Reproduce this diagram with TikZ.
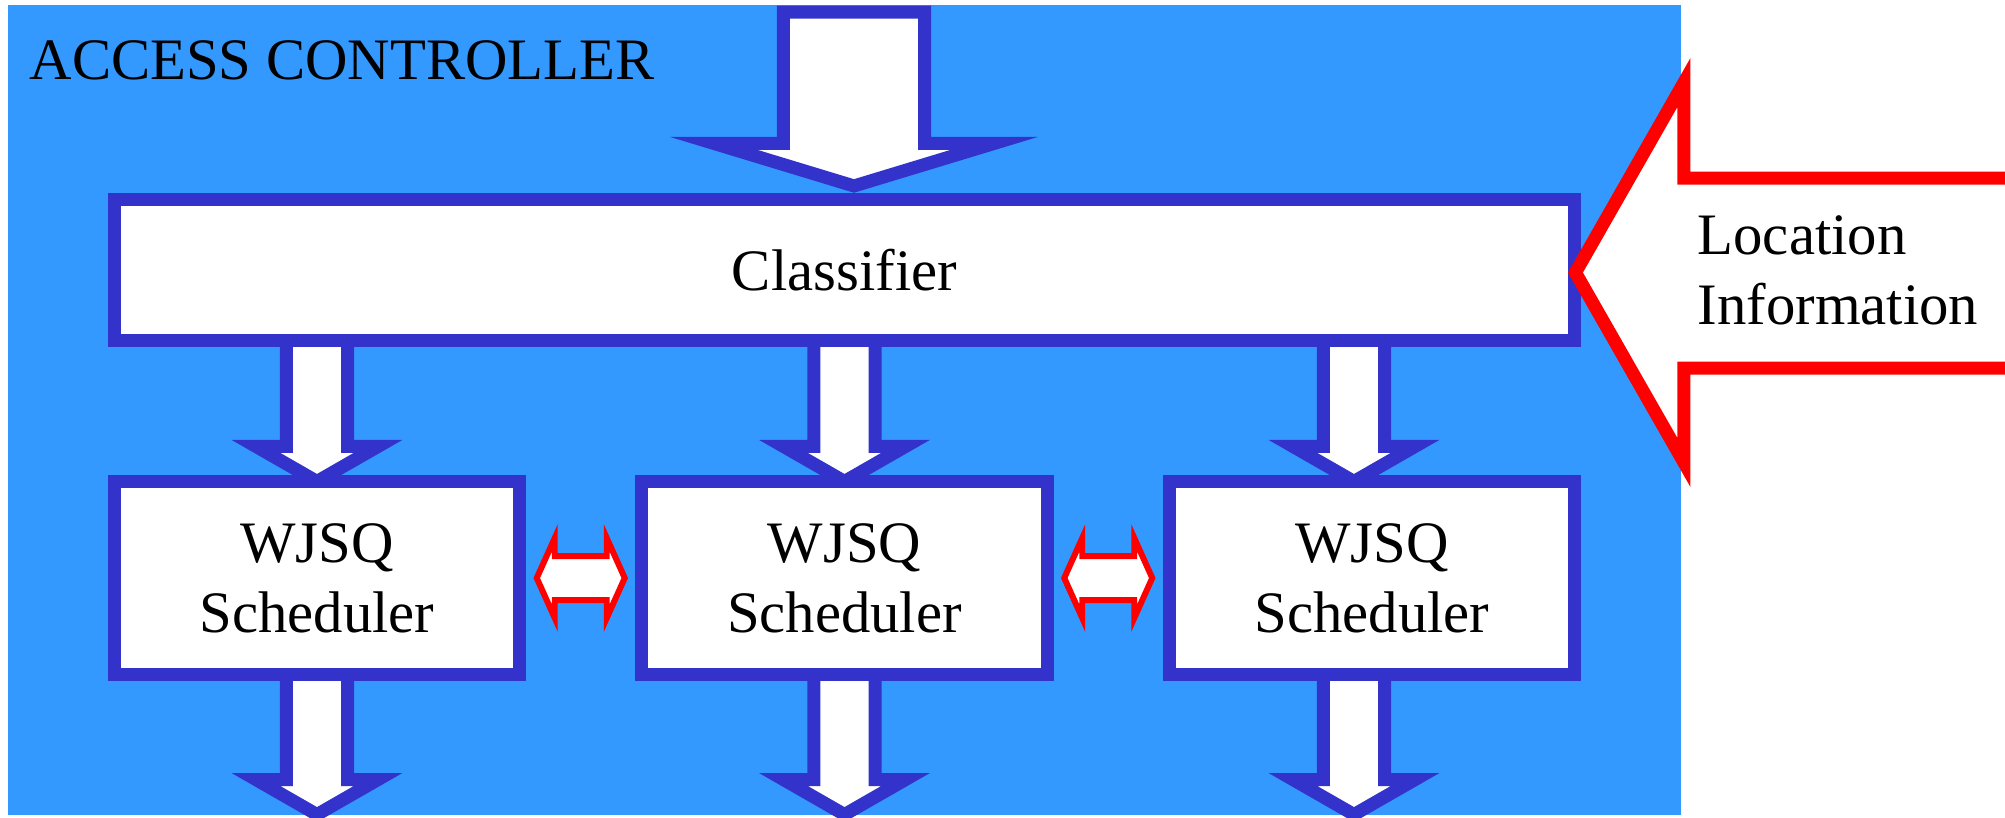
\documentclass[tikz,border=0pt]{standalone}
\usepackage{fontspec}
\setmainfont{Liberation Serif}
\usetikzlibrary{calc}
\definecolor{bgblue}{RGB}{51,153,255}
\definecolor{boxblue}{RGB}{51,51,204}
\pgfdeclarelayer{bg}
\pgfsetlayers{bg,main}

\begin{document}
\begin{tikzpicture}[x=0.01cm,y=-0.01cm,
    every node/.style={font=\fontsize{16.7pt}{20pt}\selectfont,inner sep=0pt},
    box/.style={draw=boxblue,fill=white,line width=3.7pt,align=center},
    fat/.style={draw=boxblue,fill=white,line width=3.7pt},
    twin/.style={draw=red,fill=white,line width=1.7pt},
    bigred/.style={draw=red,fill=white,line width=3.7pt}]
        \newcommand{\fatarrow}[5]{
          \draw[fat] let \p1=#1, \p2=#2 in
            (\x1-#3,\y1) -- (\x1-#3,\y2+#5) -- (\x1-#4,\y2+#5) -- (\x2,\y2)
            -- (\x1+#4,\y2+#5) -- (\x1+#3,\y2+#5) -- (\x1+#3,\y1) -- cycle;
        }
        \useasboundingbox (0,0) rectangle (2005,817);
        \node[box,minimum width=14.6cm,minimum height=1.41cm] (cls) at (844.5,270) {Classifier};
        \foreach \i/\x in {1/317,2/844.5,3/1372}{
          \node[box,minimum width=4.05cm,minimum height=1.93cm] (sch\i) at (\x,578) {WJSQ\\Scheduler};
        }
        \begin{pgfonlayer}{bg}
          \fill[bgblue] (8,5) rectangle (1681,815);
          \coordinate (feed) at (854,12);
          \coordinate (feedtip) at ($(cls.north -| feed)+(0,-7)$);
          \fatarrow{(feed)}{(feedtip)}{0.705cm}{1.4cm}{0.425cm}
          \foreach \i/\dx in {1/0,2/0,3/-18}{
            \coordinate (up\i) at ($(sch\i.north)+(\dx,6.5)$);
            \coordinate (dn\i) at ($(sch\i.south)+(\dx,133.5)$);
            \fatarrow{(cls.center -| up\i)}{(up\i)}{0.305cm}{0.61cm}{0.35cm}
            \fatarrow{(sch\i.center -| dn\i)}{(dn\i)}{0.305cm}{0.61cm}{0.35cm}
          }
        \end{pgfonlayer}
        \foreach \a/\b in {sch1/sch2,sch2/sch3}{
          \draw[twin,shift={($(\a.east)!.5!(\b.west)$)}] (-44,0) -- (-26,-40) -- (-26,-22)
            -- (26,-22) -- (26,-40) -- (44,0) -- (26,40) -- (26,22) -- (-26,22) -- (-26,40) -- cycle;
        }
        \coordinate (loc) at ($(cls.east)+(-6,2.5)$);
        \draw[bigred] (loc) -- +(108.5,-190) -- +(108.5,-94.5) -- +(440,-94.5)
          -- +(440,95.5) -- +(108.5,95.5) -- +(108.5,190) -- cycle;
        \node[anchor=base west] (title) at (29,79) {ACCESS CONTROLLER};
        \node[anchor=west,align=left] (locinfo) at (1697,270) {Location\\Information};
      \end{tikzpicture}
\end{document}
